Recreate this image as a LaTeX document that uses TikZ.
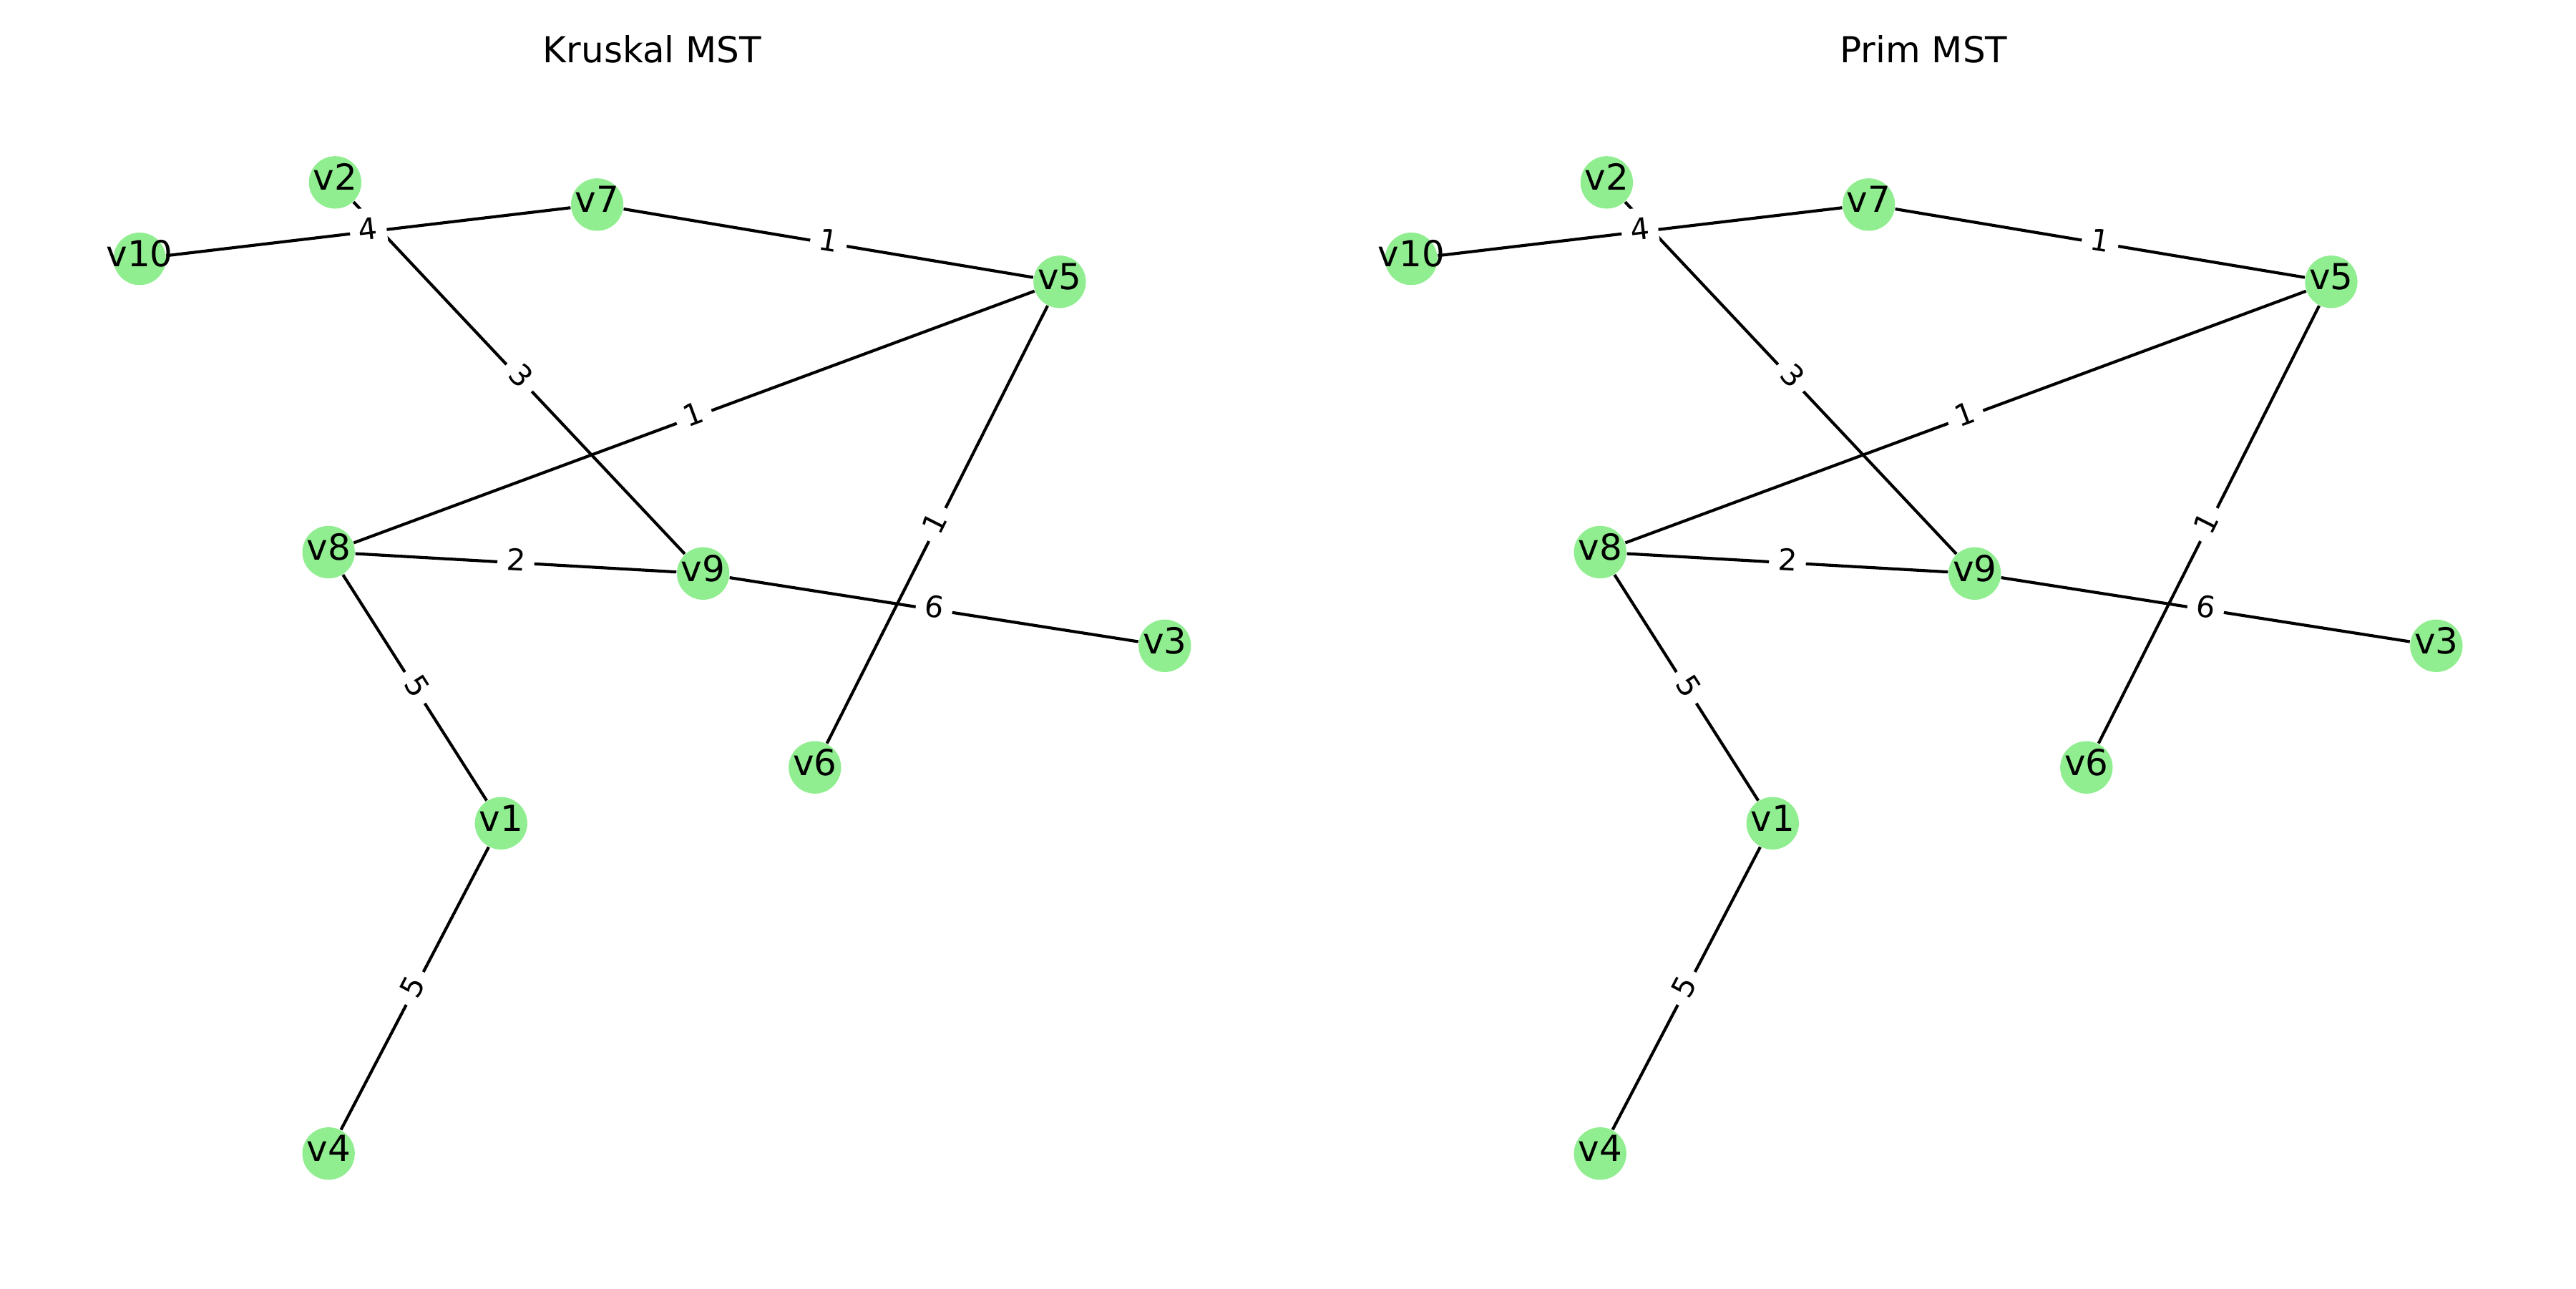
\documentclass[tikz,border=0pt]{standalone}
\usepackage{fontspec}
\setmainfont{DejaVu Sans}
\usetikzlibrary{backgrounds}
\definecolor{nodegreen}{HTML}{90EE90}

\begin{document}
\begin{tikzpicture}[x=0.55102bp, y=-0.55102bp,
  vert/.style={circle, fill=nodegreen, minimum size=17.6bp, inner sep=0pt,
    label={[vlbl]center:#1}},
  vlbl/.style={font=\fontsize{12bp}{14bp}\selectfont, text height=0.76em,
    text depth=0.24em, inner sep=0pt},
  elbl/.style={sloped, fill=white, rounded corners=2bp, inner sep=3bp,
    font=\fontsize{10bp}{12bp}\selectfont, text height=0.76em, text depth=0.24em},
  ttl/.style={font=\fontsize{12bp}{14bp}\selectfont, anchor=base},
  conn/.style={line width=1bp}]
\useasboundingbox (0,0) rectangle (1568,784);

%Kruskal
\node[ttl] (ktitle) at (397,38.3) {Kruskal MST};
\node[vert=v1]  (kv1)  at (305,501) {};
\node[vert=v2]  (kv2)  at (204,111) {};
\node[vert=v3]  (kv3)  at (709,393) {};
\node[vert=v4]  (kv4)  at (200,702) {};
\node[vert=v5]  (kv5)  at (645,171.5) {};
\node[vert=v6]  (kv6)  at (496,467) {};
\node[vert=v7]  (kv7)  at (363.5,124.5) {};
\node[vert=v8]  (kv8)  at (200,336) {};
\node[vert=v9]  (kv9)  at (428,349) {};
\node[vert=v10] (kv10) at (85,157.5) {};

%Prim
\begin{scope}[shift={(774,0)}]
\node[ttl] (ptitle) at (397,38.3) {Prim MST};
\node[vert=v1]  (pv1)  at (305,501) {};
\node[vert=v2]  (pv2)  at (204,111) {};
\node[vert=v3]  (pv3)  at (709,393) {};
\node[vert=v4]  (pv4)  at (200,702) {};
\node[vert=v5]  (pv5)  at (645,171.5) {};
\node[vert=v6]  (pv6)  at (496,467) {};
\node[vert=v7]  (pv7)  at (363.5,124.5) {};
\node[vert=v8]  (pv8)  at (200,336) {};
\node[vert=v9]  (pv9)  at (428,349) {};
\node[vert=v10] (pv10) at (85,157.5) {};
\end{scope}

%Kanten, Gewichte darueber
\begin{scope}[on background layer]
\foreach \t in {k,p}
  \foreach \a/\b in {10/7, 2/9, 7/5, 8/5, 5/6, 8/9, 9/3, 8/1, 1/4}
    \draw[conn] (\t v\a) -- (\t v\b);
\end{scope}
\foreach \t in {k,p}
  \foreach \a/\b/\w in {10/7/4, 2/9/3, 7/5/1, 8/5/1, 5/6/1, 8/9/2, 9/3/6, 8/1/5, 1/4/5}
    \path (\t v\a) -- node[elbl]{\w} (\t v\b);
\end{tikzpicture}
\end{document}
